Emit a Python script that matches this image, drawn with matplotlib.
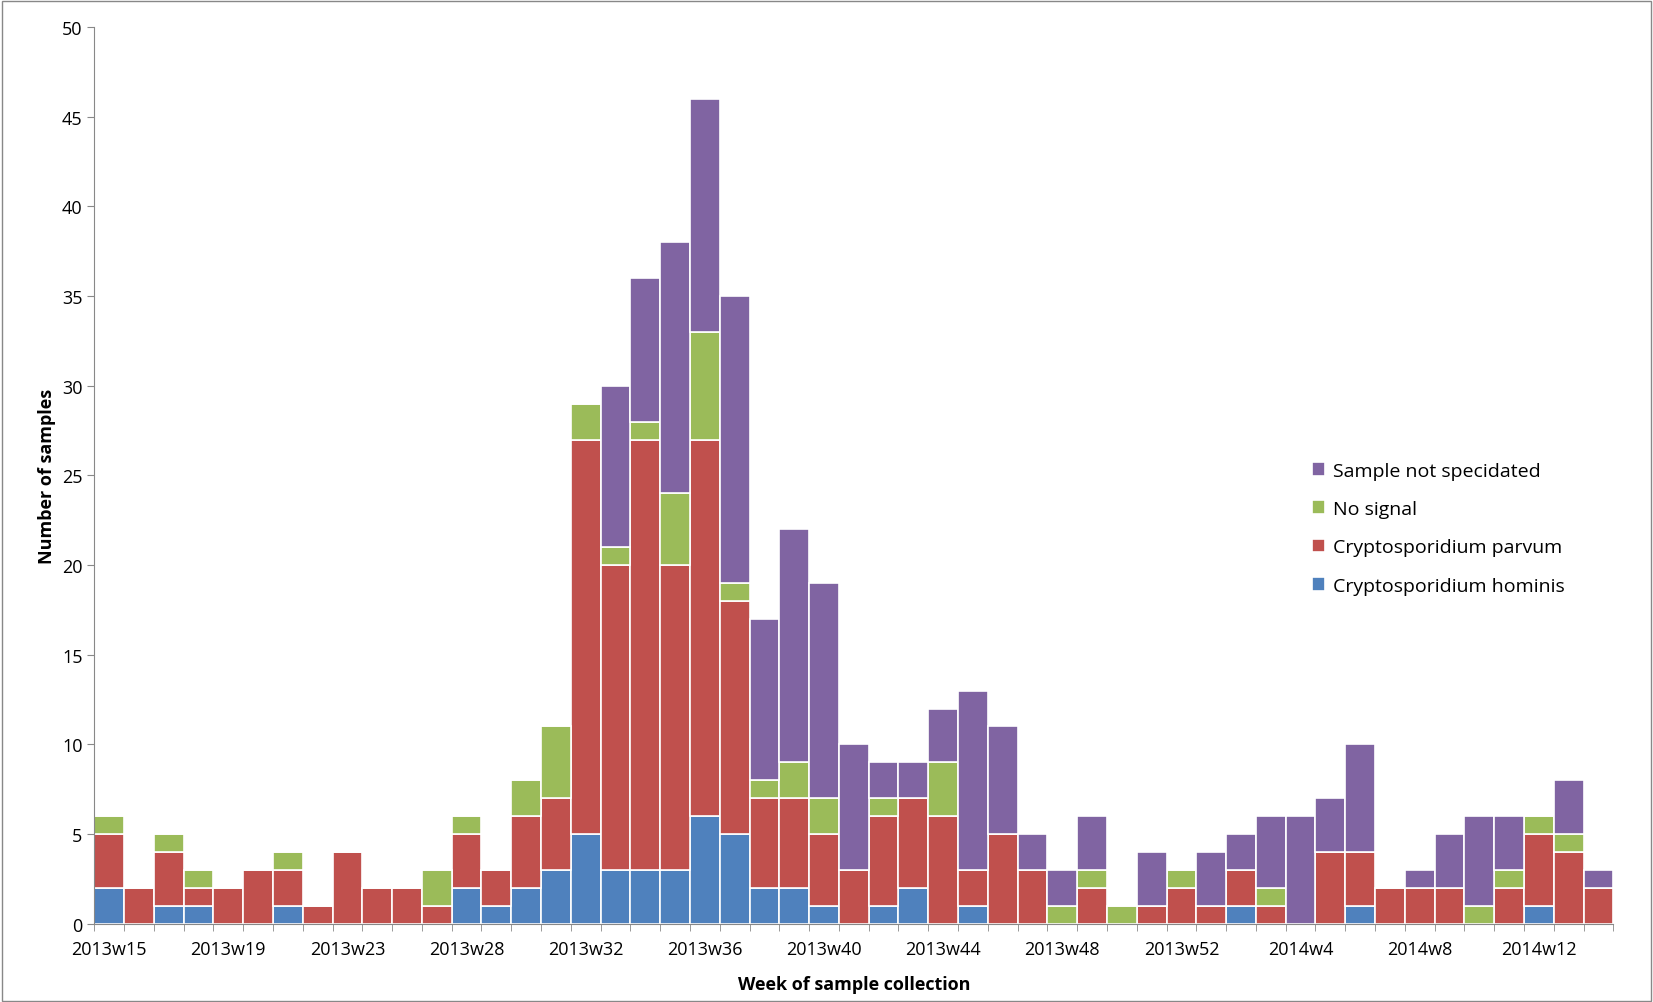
import matplotlib
matplotlib.use('Agg')
import matplotlib.pyplot as plt
import numpy as np

plt.rcParams['font.family'] = ['Open Sans', 'DejaVu Sans']

weeks = ['2013w%d' % w for w in range(15, 27)] + ['2013w%d' % w for w in range(28, 53)] + \
        ['2014w%d' % w for w in range(1, 15)]

hominis = [2,0,1,1,0,0,1,0,0,0,0,0,2,1,2,3,5,3,3,3,6,5,2,2,1,0,1,2,0,1,0,0,0,0,0,0,0,0,1,0,0,0,1,0,0,0,0,0,1,0,0]
parvum  = [3,2,3,1,2,3,2,1,4,2,2,1,3,2,4,4,22,17,24,17,21,13,5,5,4,3,5,5,6,2,5,3,0,2,0,1,2,1,2,1,0,4,3,2,2,2,0,2,4,4,2]
nosig   = [1,0,1,1,0,0,1,0,0,0,0,2,1,0,2,4,2,1,1,4,6,1,1,2,2,0,1,0,3,0,0,0,1,1,1,0,1,0,0,1,0,0,0,0,0,0,1,1,1,1,0]
notspec = [0,0,0,0,0,0,0,0,0,0,0,0,0,0,0,0,0,9,8,14,13,16,9,13,12,7,2,2,3,10,6,2,2,3,0,3,0,3,2,4,6,3,6,0,1,3,5,3,0,3,1]

series = [('Cryptosporidium hominis', hominis, '#4F81BD'),
          ('Cryptosporidium parvum', parvum, '#C0504D'),
          ('No signal', nosig, '#9BBB59'),
          ('Sample not specidated', notspec, '#8064A2')]

fig = plt.figure(figsize=(16.53, 10.03), dpi=100)
ax = fig.add_axes([0.057, 0.078, 0.919, 0.894])
x = np.arange(len(weeks))
bottom = np.zeros(len(weeks))
for name, vals, col in series:
    ax.bar(x, vals, width=1.0, bottom=bottom, color=col, edgecolor='white', linewidth=1.2, label=name)
    bottom += np.array(vals)

ax.set_xlim(-0.5, len(weeks) - 0.5)
ax.set_ylim(0, 50)
ax.set_yticks(range(0, 51, 5))
ax.set_xticks(x[::4])
ax.set_xticklabels(weeks[::4], fontsize=13)
ax.set_xticks(np.arange(-0.5, len(weeks), 1), minor=True)
ax.tick_params(axis='x', which='major', length=0, pad=12)
ax.tick_params(axis='x', which='minor', length=5, color='#888888')
ax.tick_params(axis='y', labelsize=13, length=5, color='#888888')
for s in ['top', 'right']:
    ax.spines[s].set_visible(False)
for s in ['left', 'bottom']:
    ax.spines[s].set_color('#888888')

ax.set_xlabel('Week of sample collection', fontsize=13, fontweight='bold', labelpad=12)
ax.set_ylabel('Number of samples', fontsize=13, fontweight='bold')

h, l = ax.get_legend_handles_labels()
ax.legend(h[::-1], l[::-1], loc='upper left', bbox_to_anchor=(0.79, 0.535), frameon=False,
          fontsize=14, handlelength=0.7, handleheight=0.7, labelspacing=1.05, handletextpad=0.4)

fig.patches.append(plt.Rectangle((0.001, 0.001), 0.998, 0.997, transform=fig.transFigure,
                                 fill=False, edgecolor='#888888', linewidth=1))
fig.savefig('out.png', dpi=100)
